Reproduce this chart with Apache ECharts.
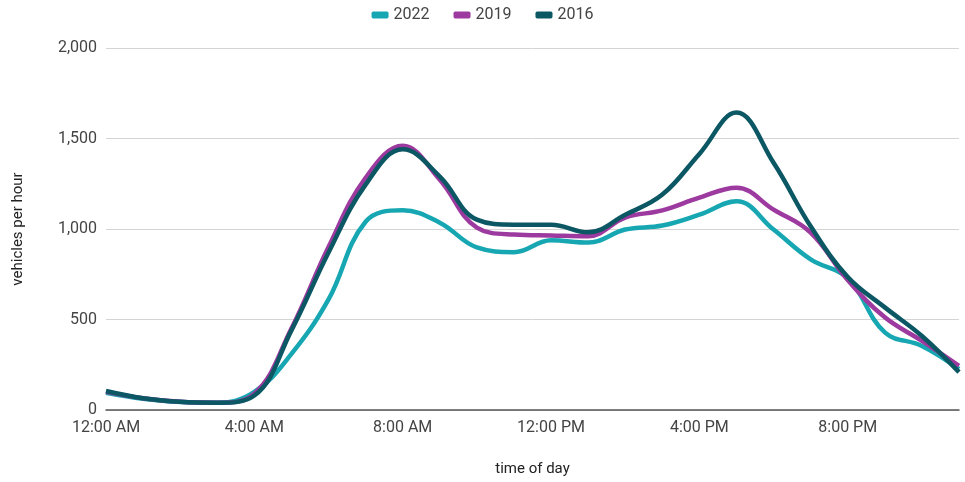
<!DOCTYPE html>
<html>
<head>
<meta charset="utf-8">
<script src="https://cdn.jsdelivr.net/npm/echarts@6/dist/echarts.min.js"></script>
<style>html,body{margin:0;padding:0;background:#fff;overflow:hidden;}#c{width:965px;height:482px;}</style>
</head>
<body>
<div id="c"></div>
<script>
const hours = ["12:00 AM","1:00 AM","2:00 AM","3:00 AM","4:00 AM","5:00 AM","6:00 AM","7:00 AM","8:00 AM","9:00 AM","10:00 AM","11:00 AM",
  "12:00 PM","1:00 PM","2:00 PM","3:00 PM","4:00 PM","5:00 PM","6:00 PM","7:00 PM","8:00 PM","9:00 PM","10:00 PM","11:00 PM"];
const seriesNames = ["2022", "2019", "2016"];
const v2022 = [95, 62, 44, 40, 100, 310, 611, 1040, 1103, 1035, 898, 872, 938, 925, 997, 1019, 1079, 1153, 997, 832, 728, 429, 354, 226];
const v2019 = [100, 65, 45, 40, 90, 450, 900, 1283, 1460, 1272, 1008, 969, 964, 960, 1063, 1103, 1173, 1228, 1107, 980, 718, 512, 382, 244];
const v2016 = [105, 65, 45, 40, 80, 440, 870, 1245, 1440, 1290, 1052, 1024, 1024, 982, 1079, 1190, 1415, 1643, 1366, 1015, 735, 567, 409, 209];
const yTicks = [0, 500, 1000, 1500, 2000];

const colors = ["#17a7b3", "#9d3a9f", "#0c5764"];
const values = [v2022, v2019, v2016];
const font = "Roboto, 'Liberation Sans', Arial, sans-serif";

const chart = echarts.init(document.getElementById('c'), null, {renderer: 'canvas'});
chart.setOption({
  animation: false,
  textStyle: {fontFamily: font},
  legend: {
    top: 2, left: 'center',
    itemWidth: 17, itemHeight: 7, itemGap: 24,
    icon: 'roundRect',
    textStyle: {fontSize: 16, color: '#444', fontFamily: font},
    data: seriesNames
  },
  grid: {left: 106, right: 6, top: 48, bottom: 63, containLabel: false},
  xAxis: {
    type: 'category', data: hours, boundaryGap: false,
    name: 'time of day', nameLocation: 'middle', nameGap: 52,
    nameTextStyle: {fontSize: 15, color: '#222', fontFamily: font},
    axisLine: {lineStyle: {color: '#555', width: 1.5}},
    axisTick: {show: false},
    axisLabel: {interval: 3, fontSize: 16, color: '#444', margin: 10, fontFamily: font},
    splitLine: {show: false}
  },
  yAxis: {
    type: 'value', min: yTicks[0], max: yTicks[yTicks.length - 1], interval: yTicks[1] - yTicks[0],
    name: 'vehicles per hour', nameLocation: 'middle', nameGap: 80, nameRotate: 90,
    nameTextStyle: {fontSize: 15, color: '#222', fontFamily: font},
    axisLine: {show: false}, axisTick: {show: false},
    axisLabel: {fontSize: 16, color: '#444', margin: 9, fontFamily: font,
      formatter: v => v.toLocaleString('en-US')},
    splitLine: {lineStyle: {color: '#d4d4d4', width: 1}}
  },
  series: seriesNames.map((n, i) => ({
    name: n, type: 'line', data: values[i], smooth: 0.4,
    showSymbol: false, symbol: 'none',
    lineStyle: {width: 4.5, color: colors[i]},
    itemStyle: {color: colors[i]},
    z: 2 + i
  }))
});
</script>
</body>
</html>
